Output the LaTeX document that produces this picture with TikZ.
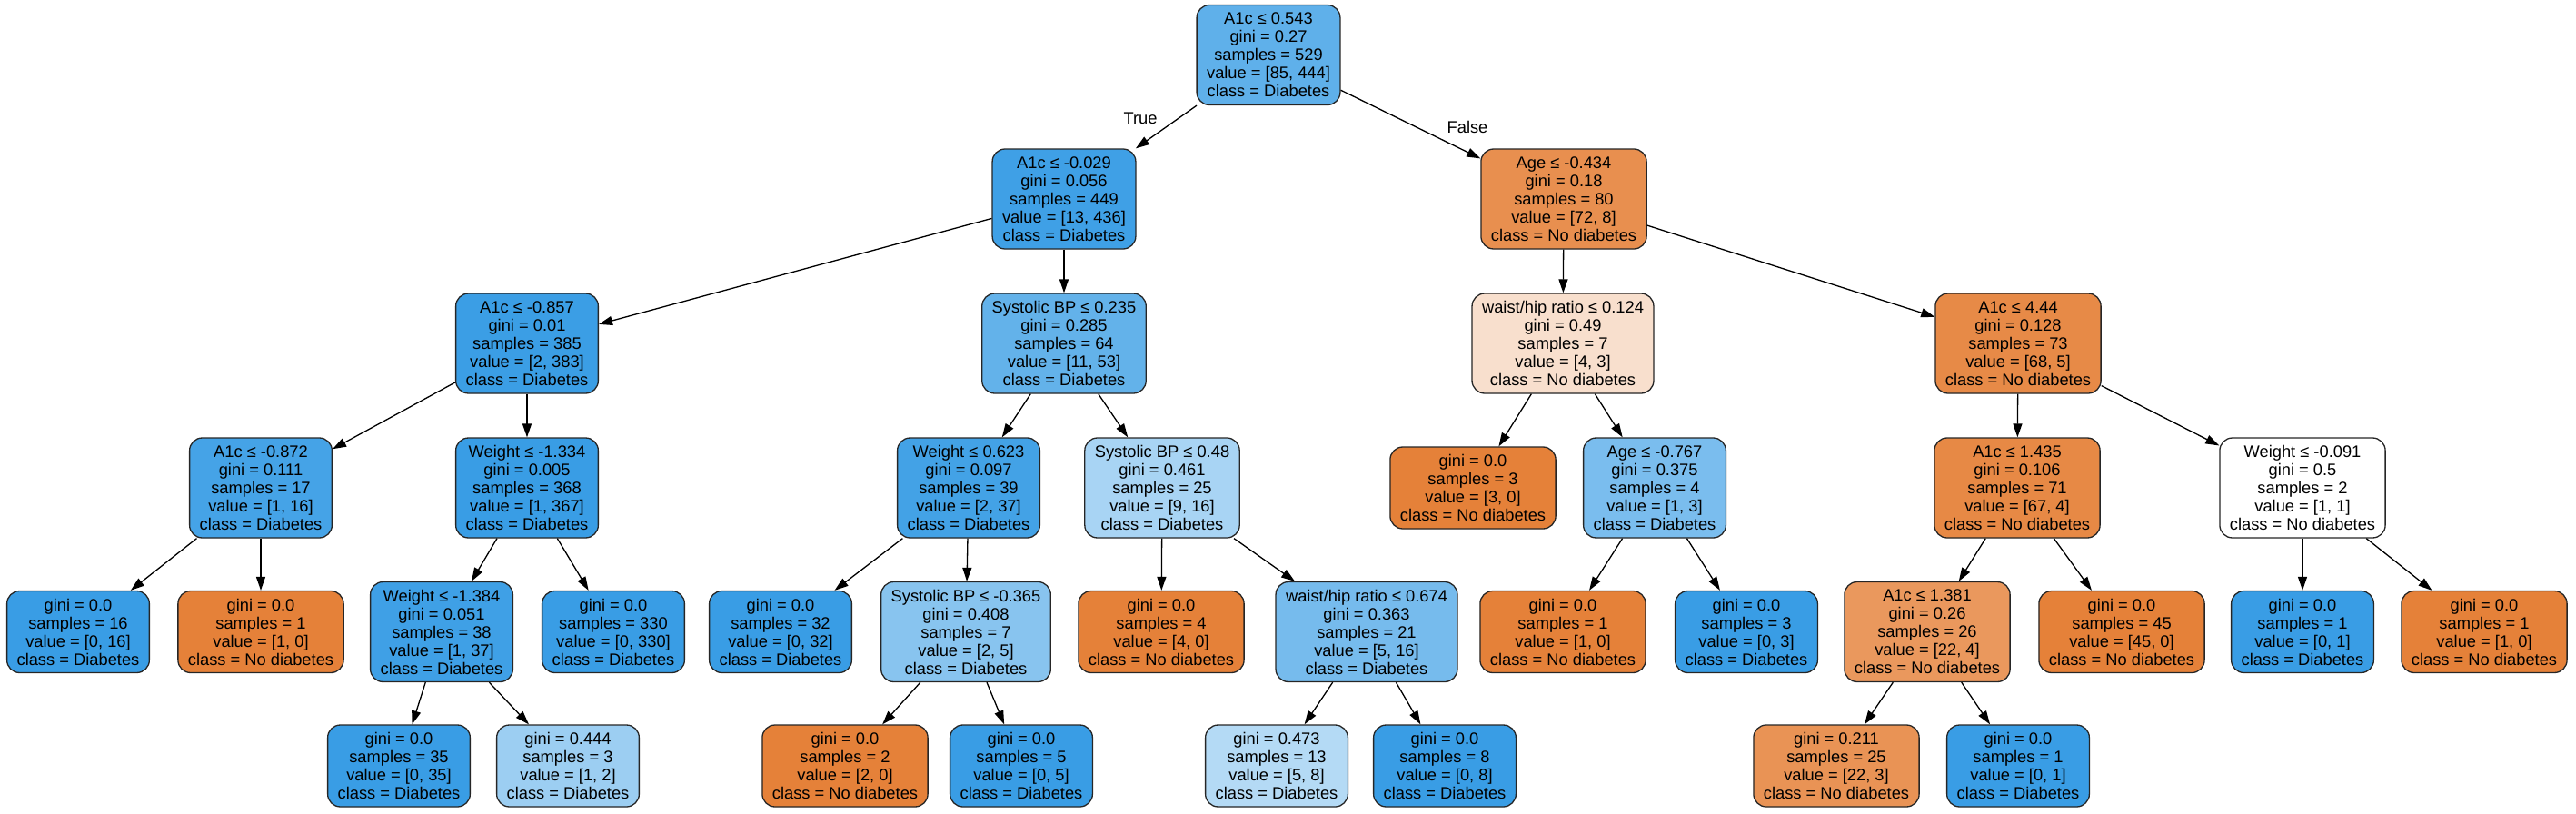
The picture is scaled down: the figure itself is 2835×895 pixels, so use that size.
\documentclass[tikz,border=0pt]{standalone}
\usepackage{fontspec}
\setmainfont{Liberation Sans}
\usetikzlibrary{arrows.meta}
\definecolor{diab}{RGB}{57,157,229}
\definecolor{nod}{RGB}{229,129,57}
\begin{document}
\begin{tikzpicture}[x=1pt,y=-1pt,
  tn/.style={draw=black!85, line width=1.3pt, rounded corners=14pt, align=center,
    inner xsep=11pt, inner ysep=0pt, minimum height=110pt,
    font=\fontsize{18.3}{20}\selectfont},
  lf/.style={tn, minimum height=90pt},
  edge/.style={-{Triangle[length=15pt,width=10pt]}, line width=1.3pt, black},
  elab/.style={font=\fontsize{18.3}{20}\selectfont, inner sep=0pt}]
\useasboundingbox (0,0) rectangle (2835,895);
% level 0
\node[tn, fill=diab!81] (n0) at (1396,60.5) {A1c ≤ 0.543\\gini = 0.27\\samples = 529\\value = [85, 444]\\class = Diabetes};
% level 1
\node[tn, fill=diab!97] (n1) at (1171,219) {A1c ≤ -0.029\\gini = 0.056\\samples = 449\\value = [13, 436]\\class = Diabetes};
\node[tn, fill=nod!89] (n2) at (1721,219) {Age ≤ -0.434\\gini = 0.18\\samples = 80\\value = [72, 8]\\class = No diabetes};
% level 2
\node[tn, fill=diab!99] (n3) at (580,378) {A1c ≤ -0.857\\gini = 0.01\\samples = 385\\value = [2, 383]\\class = Diabetes};
\node[tn, fill=diab!79] (n4) at (1171,378) {Systolic BP ≤ 0.235\\gini = 0.285\\samples = 64\\value = [11, 53]\\class = Diabetes};
\node[tn, fill=nod!25] (n5) at (1720,378) {waist/hip ratio ≤ 0.124\\gini = 0.49\\samples = 7\\value = [4, 3]\\class = No diabetes};
\node[tn, fill=nod!93] (n6) at (2221,378) {A1c ≤ 4.44\\gini = 0.128\\samples = 73\\value = [68, 5]\\class = No diabetes};
% level 3
\node[tn, fill=diab!94] (n7) at (287,537) {A1c ≤ -0.872\\gini = 0.111\\samples = 17\\value = [1, 16]\\class = Diabetes};
\node[tn, fill=diab] (n8) at (580,537) {Weight ≤ -1.334\\gini = 0.005\\samples = 368\\value = [1, 367]\\class = Diabetes};
\node[tn, fill=diab!95] (n9) at (1066,537) {Weight ≤ 0.623\\gini = 0.097\\samples = 39\\value = [2, 37]\\class = Diabetes};
\node[tn, fill=diab!44] (n10) at (1279,537) {Systolic BP ≤ 0.48\\gini = 0.461\\samples = 25\\value = [9, 16]\\class = Diabetes};
\node[lf, fill=nod] (l3a) at (1621,537) {gini = 0.0\\samples = 3\\value = [3, 0]\\class = No diabetes};
\node[tn, fill=diab!67] (n11) at (1821,537) {Age ≤ -0.767\\gini = 0.375\\samples = 4\\value = [1, 3]\\class = Diabetes};
\node[tn, fill=nod!94] (n12) at (2220,537) {A1c ≤ 1.435\\gini = 0.106\\samples = 71\\value = [67, 4]\\class = No diabetes};
\node[tn, fill=white] (n13) at (2534,537) {Weight ≤ -0.091\\gini = 0.5\\samples = 2\\value = [1, 1]\\class = No diabetes};
% level 4
\node[lf, fill=diab] (n14) at (86,695.5) {gini = 0.0\\samples = 16\\value = [0, 16]\\class = Diabetes};
\node[lf, fill=nod] (n15) at (287,695.5) {gini = 0.0\\samples = 1\\value = [1, 0]\\class = No diabetes};
\node[tn, fill=diab!97] (n16) at (486,695.5) {Weight ≤ -1.384\\gini = 0.051\\samples = 38\\value = [1, 37]\\class = Diabetes};
\node[lf, fill=diab] (n17) at (675,695.5) {gini = 0.0\\samples = 330\\value = [0, 330]\\class = Diabetes};
\node[lf, fill=diab] (n18) at (859,695.5) {gini = 0.0\\samples = 32\\value = [0, 32]\\class = Diabetes};
\node[tn, fill=diab!60] (n19) at (1063,695.5) {Systolic BP ≤ -0.365\\gini = 0.408\\samples = 7\\value = [2, 5]\\class = Diabetes};
\node[lf, fill=nod] (n20) at (1278,695.5) {gini = 0.0\\samples = 4\\value = [4, 0]\\class = No diabetes};
\node[tn, fill=diab!69] (n21) at (1504,695.5) {waist/hip ratio ≤ 0.674\\gini = 0.363\\samples = 21\\value = [5, 16]\\class = Diabetes};
\node[lf, fill=nod] (n22) at (1720,695.5) {gini = 0.0\\samples = 1\\value = [1, 0]\\class = No diabetes};
\node[lf, fill=diab] (n23) at (1922,695.5) {gini = 0.0\\samples = 3\\value = [0, 3]\\class = Diabetes};
\node[tn, fill=nod!82] (n24) at (2121,695.5) {A1c ≤ 1.381\\gini = 0.26\\samples = 26\\value = [22, 4]\\class = No diabetes};
\node[lf, fill=nod] (n25) at (2335,695.5) {gini = 0.0\\samples = 45\\value = [45, 0]\\class = No diabetes};
\node[lf, fill=diab] (n26) at (2534,695.5) {gini = 0.0\\samples = 1\\value = [0, 1]\\class = Diabetes};
\node[lf, fill=nod] (n27) at (2734,695.5) {gini = 0.0\\samples = 1\\value = [1, 0]\\class = No diabetes};
% level 5
\node[lf, fill=diab] (n28) at (439,843) {gini = 0.0\\samples = 35\\value = [0, 35]\\class = Diabetes};
\node[lf, fill=diab!50] (n29) at (625,843) {gini = 0.444\\samples = 3\\value = [1, 2]\\class = Diabetes};
\node[lf, fill=nod] (n30) at (930,843) {gini = 0.0\\samples = 2\\value = [2, 0]\\class = No diabetes};
\node[lf, fill=diab] (n31) at (1124,843) {gini = 0.0\\samples = 5\\value = [0, 5]\\class = Diabetes};
\node[lf, fill=diab!38] (n32) at (1405,843) {gini = 0.473\\samples = 13\\value = [5, 8]\\class = Diabetes};
\node[lf, fill=diab] (n33) at (1590,843) {gini = 0.0\\samples = 8\\value = [0, 8]\\class = Diabetes};
\node[lf, fill=nod!86] (n34) at (2021,843) {gini = 0.211\\samples = 25\\value = [22, 3]\\class = No diabetes};
\node[lf, fill=diab] (n35) at (2221,843) {gini = 0.0\\samples = 1\\value = [0, 1]\\class = Diabetes};
% edges
\foreach \a/\b in {n0/n1,n0/n2,n1/n3,n1/n4,n2/n5,n2/n6,n3/n7,n3/n8,n4/n9,n4/n10,
  n5/l3a,n5/n11,n6/n12,n6/n13,n7/n14,n7/n15,n8/n16,n8/n17,n9/n18,n9/n19,
  n10/n20,n10/n21,n11/n22,n11/n23,n12/n24,n12/n25,n13/n26,n13/n27,
  n16/n28,n16/n29,n19/n30,n19/n31,n21/n32,n21/n33,n24/n34,n24/n35}
  \draw[edge] (\a) -- (\b);
% edge labels
\node[elab] (tlab) at (1255,130) {True};
\node[elab] (flab) at (1615,140) {False};
\end{tikzpicture}
\end{document}
